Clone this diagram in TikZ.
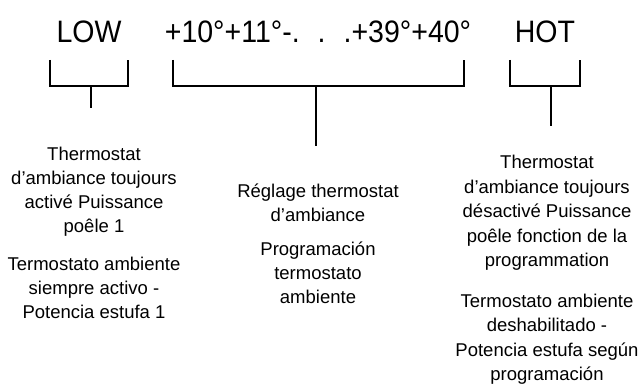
\documentclass[tikz,border=0pt]{standalone}
\usepackage{fontspec}
\setmainfont{Liberation Sans}
\newfontfamily\scalefont[FakeStretch=0.92]{Liberation Sans}
\tikzset{
  scale label/.style={font=\scalefont\fontsize{31}{32}\selectfont, inner sep=0pt, anchor=base},
  note/.style={font=\fontsize{18.5}{24}\selectfont, align=center, inner sep=0pt, anchor=north},
  bracket/.style={line width=1.6pt}
}

\begin{document}
\begin{tikzpicture}[x=1pt,y=-1pt]
\useasboundingbox (0,0) rectangle (643,385);
       \node [scale label] at (89,43) (low) {LOW};
          \node [scale label] at (318,43) (range) {+10°+11°-.\hspace{18pt}.\hspace{18pt}.+39°+40°};
             \node [scale label] at (545,43) (hot) {HOT};
%
             \node [note] at (94,147) (low text) {Thermostat\\d’ambiance toujours\\activé Puissance\\poêle 1\\[14pt]Termostato ambiente\\siempre activo -\\Potencia estufa 1};
              \node [note] at (318,184) (range text) {Réglage thermostat\\d’ambiance\\[10pt]Programación\\termostato\\ambiente};
               \node [note, font=\fontsize{18.5}{24.5}\selectfont] at (547,155) (hot text) {Thermostat\\d’ambiance toujours\\désactivé Puissance\\poêle fonction de la\\programmation\\[16pt]Termostato ambiente\\deshabilitado -\\Potencia estufa según\\programación};
%
\coordinate (low a) at (50,60);
\coordinate (low b) at (128,60);
\coordinate (low stem) at (91,86);
\coordinate (low end) at (91,108);
\coordinate (range a) at (173,60);
\coordinate (range b) at (464,60);
\coordinate (range stem) at (316,86);
\coordinate (range end) at (316,146);
\coordinate (hot a) at (510,60);
\coordinate (hot b) at (580,60);
\coordinate (hot stem) at (551,86);
\coordinate (hot end) at (551,126);
%
\draw[bracket] (low a) -- ++(0,26) -| (low b);
\draw[bracket] (low stem) -- (low end);
\draw[bracket] (range a) -- ++(0,26) -| (range b);
\draw[bracket] (range stem) -- (range end);
\draw[bracket] (hot a) -- ++(0,26) -| (hot b);
\draw[bracket] (hot stem) -- (hot end);

\end{tikzpicture}
\end{document}
